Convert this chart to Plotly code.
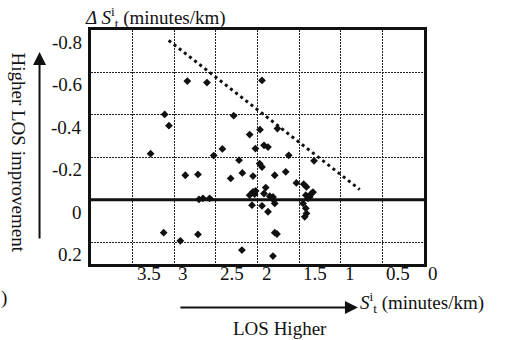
import plotly.graph_objects as go

# ---- data ----
S_T = [2.843, 2.607, 1.946, 3.115, 3.064, 2.286, 2.094, 1.970, 1.761, 2.422,
       2.025, 1.922, 1.874, 3.284, 2.526, 1.625, 1.321, 2.222, 1.974, 1.946,
       2.182, 2.867, 2.715, 2.322, 2.054, 1.793, 1.661, 1.901, 2.054, 2.034,
       2.094, 1.922, 1.533, 1.445, 1.412, 1.352, 1.373, 1.333, 1.393, 1.420,
       1.853, 1.814, 1.805, 1.793, 2.575, 2.655, 2.703, 2.066, 1.946, 1.874,
       1.453, 1.420, 1.412, 1.433, 1.793, 1.766, 2.187, 1.814, 3.127, 2.927,
       2.715, 2.022]
DELTA_S = [-0.559, -0.552, -0.562, -0.402, -0.349, -0.396, -0.307, -0.330, -0.335, -0.239,
           -0.241, -0.256, -0.248, -0.217, -0.208, -0.209, -0.183, -0.186, -0.170, -0.154,
           -0.126, -0.115, -0.119, -0.100, -0.111, -0.115, -0.131, -0.057, -0.037, -0.026,
           -0.021, -0.029, -0.079, -0.073, -0.060, -0.029, -0.013, -0.035, -0.006, -0.021,
           -0.016, -0.013, 0.002, 0.018, -0.006, -0.006, -0.001, 0.026, 0.029, 0.057,
           0.018, 0.041, 0.065, 0.081, 0.156, 0.162, 0.238, 0.266, 0.156, 0.194,
           0.164, -0.041]
TREND_X = [3.067, 0.772]
TREND_Y = [-0.751, -0.048]
X_TICKS = [3.5, 3, 2.5, 2, 1.5, 1, 0.5, 0]
X_TICK_TEXT = ["3.5", "3", "2.5", "2", "1.5", "1", "0.5", "0"]
Y_TICKS = [-0.8, -0.6, -0.4, -0.2, 0, 0.2]
Y_TICK_TEXT = ["-0.8", "-0.6", "-0.4", "-0.2", "0", "0.2"]

FONT = "Liberation Serif"
W, H = 509, 340
L, R, T, B = 91.4, 85, 30, 76
PW, PH = W - L - R, H - T - B


def px(x):
    return (x - L) / PW


def py(y):
    return (H - B - y) / PH


fig = go.Figure()
fig.add_trace(go.Scatter(x=TREND_X, y=TREND_Y, mode="lines",
                         line=dict(color="#111", width=3, dash="3px,3.5px"),
                         hoverinfo="skip"))
fig.add_trace(go.Scatter(x=S_T, y=DELTA_S, mode="markers",
                         marker=dict(symbol="diamond", size=6, color="#111")))

annotations = []
for v, t in zip(X_TICKS, X_TICK_TEXT):
    annotations.append(dict(x=v, xref="x", y=py(273), yref="paper", text=t,
                            showarrow=False, xanchor="left", yanchor="middle",
                            xshift=2, font=dict(size=19)))
for v, t in zip(Y_TICKS, Y_TICK_TEXT):
    annotations.append(dict(x=px(84), xref="paper", y=v, yref="y", text=t,
                            showarrow=False, xanchor="right", yanchor="middle",
                            yshift=-12.5, font=dict(size=19)))

annotations += [
    dict(x=px(83), y=py(18), xref="paper", yref="paper", showarrow=False,
         xanchor="left", yanchor="middle",
         text="<i>Δ S</i><sup>i</sup><sub>t</sub> (minutes/km)", font=dict(size=19)),
    dict(x=px(358), y=py(302), xref="paper", yref="paper", showarrow=False,
         xanchor="left", yanchor="middle",
         text="<i>S</i><sup>i</sup><sub>t</sub> (minutes/km)", font=dict(size=19)),
    dict(x=px(280), y=py(328), xref="paper", yref="paper", showarrow=False,
         xanchor="center", yanchor="middle", text="LOS Higher", font=dict(size=19)),
    dict(x=px(19), y=py(152), xref="paper", yref="paper", showarrow=False,
         xanchor="center", yanchor="middle", textangle=90,
         text="Higher LOS improvement", font=dict(size=19)),
    dict(x=px(5), y=py(298), xref="paper", yref="paper", showarrow=False,
         xanchor="center", yanchor="middle", text=")", font=dict(size=19)),
    # arrows
    dict(x=px(358), y=py(307.5), xref="paper", yref="paper", text="",
         showarrow=True, ax=-179, ay=0, arrowhead=2, arrowsize=1.3,
         arrowwidth=2, arrowcolor="#111"),
    dict(x=px(40), y=py(52), xref="paper", yref="paper", text="",
         showarrow=True, ax=0, ay=188, arrowhead=2, arrowsize=1.3,
         arrowwidth=2, arrowcolor="#111"),
]

fig.update_layout(
    width=W, height=H,
    margin=dict(l=L, r=R, t=T, b=B),
    paper_bgcolor="white", plot_bgcolor="white",
    showlegend=False,
    font=dict(family=FONT, color="#111"),
    annotations=annotations,
)
fig.update_xaxes(range=[4, 0], tickvals=[3.5, 3, 2.5, 2, 1.5, 1, 0.5],
                 showticklabels=False, ticks="",
                 showgrid=True, gridcolor="#222", gridwidth=1.3, griddash="1.5px,1.5px",
                 zeroline=False, showline=True, mirror=True, linecolor="#111", linewidth=3)
fig.update_yaxes(range=[0.3035, -0.8], tickvals=[-0.6, -0.4, -0.2, 0.2],
                 showticklabels=False, ticks="",
                 showgrid=True, gridcolor="#222", gridwidth=1.3, griddash="1.5px,1.5px",
                 zeroline=False, showline=True, mirror=True, linecolor="#111", linewidth=3)
fig.add_shape(type="line", xref="paper", yref="y", x0=0, x1=1, y0=0, y1=0,
              line=dict(color="#111", width=3), layer="above")

fig.write_html("out.html", config={"displayModeBar": False},
               post_script="document.body.style.margin='0';")
